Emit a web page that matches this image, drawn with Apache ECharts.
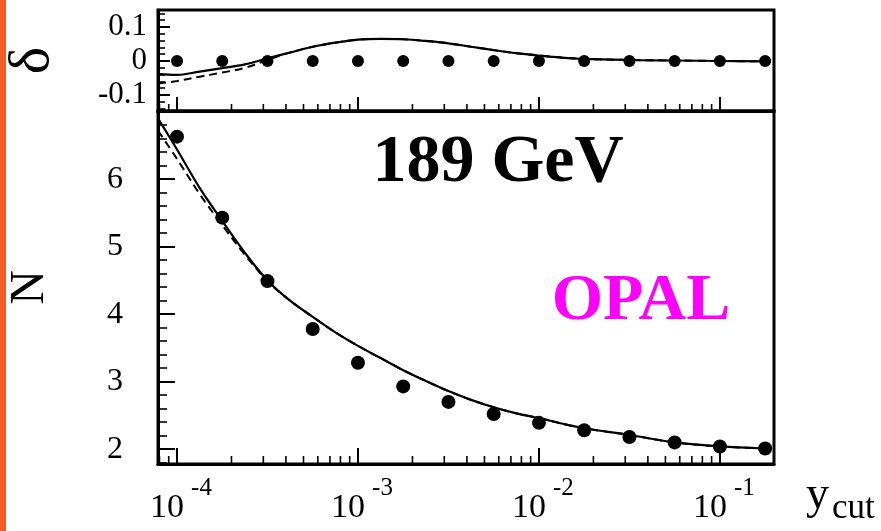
<!DOCTYPE html>
<html>
<head>
<meta charset="utf-8">
<script src="https://cdn.jsdelivr.net/npm/echarts@6/dist/echarts.min.js"></script>
<style>
html,body{margin:0;padding:0;background:#fff;}
#c{width:881px;height:531px;}
</style>
</head>
<body>
<div id="c"></div>
<script>
// ---- data (x values are log10(y_cut)) ----
const LOG_YCUT = [-4.00, -3.75, -3.50, -3.25, -3.00, -2.75, -2.50, -2.25, -2.00, -1.75, -1.50, -1.25, -1.00, -0.75];
const N_DATA = [6.63, 5.43, 4.49, 3.78, 3.28, 2.93, 2.70, 2.52, 2.39, 2.28, 2.18, 2.10, 2.04, 2.01];
const DELTA_DATA = [0, 0, 0, 0, 0, 0, 0, 0, 0, 0, 0, 0, 0, 0];

const CURVE_LOG = [-4.105, -4.0, -3.875, -3.75, -3.625, -3.5, -3.375, -3.25, -3.125, -3.0, -2.875, -2.75,
                   -2.625, -2.5, -2.375, -2.25, -2.125, -2.0, -1.875, -1.75, -1.5, -1.25, -1.0, -0.75];
const N_SOLID = [6.90, 6.44, 5.87, 5.38, 4.91, 4.50, 4.20, 3.96, 3.73, 3.53, 3.35, 3.17,
                 3.01, 2.86, 2.73, 2.62, 2.53, 2.46, 2.38, 2.31, 2.21, 2.10, 2.04, 2.01];
const N_DASHED = [6.72, 6.30, 5.78, 5.32, 4.88, 4.49, 4.20, 3.96, 3.73, 3.53, 3.35, 3.17,
                  3.01, 2.86, 2.73, 2.62, 2.53, 2.46, 2.38, 2.31, 2.21, 2.10, 2.04, 2.01];
const DELTA_SOLID = [-0.038, -0.041, -0.031, -0.021, -0.010, 0.008, 0.025, 0.042, 0.054, 0.063, 0.065, 0.064,
                     0.059, 0.052, 0.042, 0.032, 0.023, 0.016, 0.010, 0.006, 0.003, 0.0015, 0.000, -0.001];
const DELTA_DASHED = [-0.066, -0.059, -0.046, -0.034, -0.020, 0.003, 0.025, 0.042, 0.054, 0.063, 0.065, 0.064,
                      0.059, 0.052, 0.042, 0.032, 0.023, 0.016, 0.010, 0.006, 0.003, 0.0015, 0.000, -0.001];

const X_MIN = -4.105, X_MAX = -0.701;
const N_MIN = 1.78, N_MAX = 7.01;
const D_MIN = -0.147, D_MAX = 0.15;

// minor (log) tick positions on the x axis: log10(m * 10^d)
const X_MINOR = [];
for (let d = -5; d <= -1; d++) {
  for (let m = 2; m <= 9; m++) {
    const v = Math.log10(m) + d;
    if (v > X_MIN && v < X_MAX) X_MINOR.push(v);
  }
}

const SERIF = '"Liberation Serif", "DejaVu Serif", serif';
const zip = (xs, ys) => xs.map((x, i) => [x, ys[i]]);

function minorTicks(idx, yVal, len) {
  return {
    type: 'custom', xAxisIndex: idx, yAxisIndex: idx, silent: true, clip: false, z: 5,
    data: X_MINOR.map(v => [v, yVal]),
    encode: {x: 0, y: 1},
    renderItem: function (params, api) {
      const x = api.coord([api.value(0), api.value(1)])[0];
      const cs = params.coordSys;
      const yb = cs.y + cs.height;
      return {type: 'line', shape: {x1: x, y1: yb, x2: x, y2: yb - len},
              style: {stroke: '#000', lineWidth: 1.6}};
    }
  };
}

const axisLine = {show: true, onZero: false, lineStyle: {color: '#000', width: 3}};

const chart = echarts.init(document.getElementById('c'), null, {renderer: 'canvas'});
chart.setOption({
  animation: false,
  backgroundColor: '#fff',
  grid: [
    {left: 158, top: 10, width: 616, height: 101, show: true, borderColor: '#000', borderWidth: 3,
     containLabel: false, outerBoundsMode: 'none'},
    {left: 158, top: 111, width: 616, height: 353, show: true, borderColor: '#000', borderWidth: 3,
     containLabel: false, outerBoundsMode: 'none'}
  ],
  xAxis: [
    {gridIndex: 0, type: 'value', min: X_MIN, max: X_MAX, splitNumber: 3,
     axisLine: axisLine, axisTick: {inside: true, length: 14, lineStyle: {color: '#000', width: 2}},
     axisLabel: {show: false}, splitLine: {show: false}},
    {gridIndex: 1, type: 'value', min: X_MIN, max: X_MAX, splitNumber: 3,
     axisLine: axisLine, axisTick: {inside: true, length: 16, lineStyle: {color: '#000', width: 2}},
     splitLine: {show: false},
     axisLabel: {
       showMinLabel: false, showMaxLabel: false, margin: 27, color: '#000',
       formatter: function (v) {
         if (Math.abs(v - Math.round(v)) > 1e-6) return '';
         return '{b|10}{s|' + Math.round(v) + '}';
       },
       rich: {
         b: {fontSize: 34, lineHeight: 34, fontFamily: SERIF, color: '#000', padding: [0, 0, 0, 8]},
         s: {fontSize: 25, lineHeight: 25, fontFamily: SERIF, color: '#000', padding: [0, 0, 40, 7]}
       }
     }}
  ],
  yAxis: [
    {gridIndex: 0, type: 'value', min: D_MIN, max: D_MAX, splitNumber: 3,
     axisLine: axisLine,
     axisTick: {inside: true, length: 12, lineStyle: {color: '#000', width: 2}},
     minorTick: {show: true, splitNumber: 5, length: 7, lineStyle: {color: '#000', width: 1.6}},
     splitLine: {show: false}, minorSplitLine: {show: false},
     axisLabel: {showMinLabel: false, showMaxLabel: false, margin: 11, fontSize: 31, fontFamily: SERIF, color: '#000',
                 formatter: v => (Math.abs(v) > 0.12 ? '' : (Math.abs(v) < 1e-9 ? '0' : v.toFixed(1)))},
     name: 'δ', nameLocation: 'middle', nameGap: 96,
     nameTextStyle: {fontSize: 58, fontFamily: SERIF, color: '#000'}},
    {gridIndex: 1, type: 'value', min: N_MIN, max: N_MAX, splitNumber: 5,
     axisLine: axisLine,
     axisTick: {inside: true, length: 17, lineStyle: {color: '#000', width: 2}},
     minorTick: {show: true, splitNumber: 5, length: 9, lineStyle: {color: '#000', width: 1.6}},
     splitLine: {show: false}, minorSplitLine: {show: false},
     axisLabel: {showMinLabel: false, showMaxLabel: false, margin: 35, fontSize: 32, fontFamily: SERIF, color: '#000',
                 formatter: v => (v > 6.9 || v < 1.9 ? '' : String(Math.round(v)))},
     name: 'N', nameLocation: 'middle', nameGap: 104,
     nameTextStyle: {fontSize: 48, fontFamily: SERIF, color: '#000'}}
  ],
  series: [
    {type: 'scatter', xAxisIndex: 0, yAxisIndex: 0, data: zip(LOG_YCUT, DELTA_DATA),
     symbolSize: 12, itemStyle: {color: '#000', opacity: 1}, z: 3},
    {type: 'line', xAxisIndex: 0, yAxisIndex: 0, data: zip(CURVE_LOG, DELTA_DASHED),
     showSymbol: false, smooth: 0.35, lineStyle: {color: '#000', width: 2, type: [8, 5]}, z: 4},
    {type: 'line', xAxisIndex: 0, yAxisIndex: 0, data: zip(CURVE_LOG, DELTA_SOLID),
     showSymbol: false, smooth: 0.35, lineStyle: {color: '#000', width: 2.2}, z: 4},
    {type: 'scatter', xAxisIndex: 1, yAxisIndex: 1, data: zip(LOG_YCUT, N_DATA),
     symbolSize: 14, itemStyle: {color: '#000', opacity: 1}, z: 3},
    {type: 'line', xAxisIndex: 1, yAxisIndex: 1, data: zip(CURVE_LOG, N_DASHED),
     showSymbol: false, smooth: 0.35, lineStyle: {color: '#000', width: 2, type: [8, 5]}, z: 4},
    {type: 'line', xAxisIndex: 1, yAxisIndex: 1, data: zip(CURVE_LOG, N_SOLID),
     showSymbol: false, smooth: 0.35, lineStyle: {color: '#000', width: 2.2}, z: 4},
    minorTicks(0, D_MIN, 7),
    minorTicks(1, N_MIN, 8)
  ],
  graphic: [
    {type: 'rect', x: 0, y: 0, shape: {width: 6, height: 531}, style: {fill: '#f25c26'}, silent: true},
    {type: 'text', x: 498, y: 163, silent: true,
     style: {text: '189 GeV', font: 'bold 68px ' + SERIF, fill: '#000',
             align: 'center', verticalAlign: 'middle', textAlign: 'center', textVerticalAlign: 'middle'}},
    {type: 'text', x: 641, y: 302, silent: true,
     style: {text: 'OPAL', font: 'bold 66px ' + SERIF, fill: '#ff00ff',
             align: 'center', verticalAlign: 'middle', textAlign: 'center', textVerticalAlign: 'middle'}},
    {type: 'text', x: 806, y: 496, silent: true,
     style: {text: 'y', font: '46px ' + SERIF, fill: '#000',
             align: 'left', verticalAlign: 'middle', textAlign: 'left', textVerticalAlign: 'middle'}},
    {type: 'text', x: 832, y: 509, silent: true,
     style: {text: 'cut', font: '35px ' + SERIF, fill: '#000',
             align: 'left', verticalAlign: 'middle', textAlign: 'left', textVerticalAlign: 'middle'}}
  ]
});
</script>
</body>
</html>
